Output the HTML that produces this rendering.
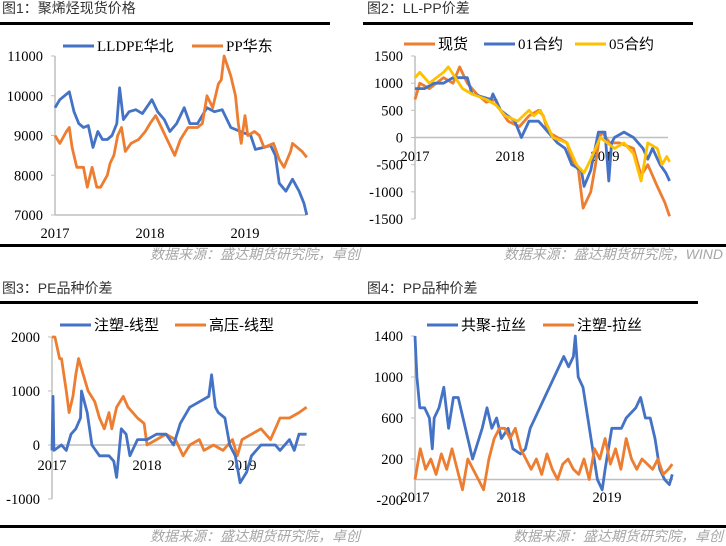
<!DOCTYPE html>
<html><head><meta charset="utf-8"><style>
body{margin:0;background:#fff;width:726px;height:546px;overflow:hidden}
svg{display:block}
.t{font-family:"Liberation Sans","Noto Sans CJK SC",sans-serif;font-size:14px;fill:#333}
.tk{font-family:"Liberation Serif","Noto Serif CJK SC",serif;font-size:14.5px;fill:#000}
.lg{font-family:"Liberation Serif","Noto Sans CJK SC",serif;font-size:15px;fill:#000}
.src{font-family:"Liberation Sans","Noto Sans CJK SC",sans-serif;font-size:14px;fill:#a6a6a6;font-style:italic}
</style></head><body>
<svg id="s" width="726" height="546" xmlns="http://www.w3.org/2000/svg">
<g>
<text class="t" x="2" y="13">图1：聚烯烃现货价格</text>
<rect x="0" y="22" width="330" height="3" fill="#000"/><rect x="0" y="244" width="363" height="3" fill="#000"/>
<text class="src" x="360" y="259" text-anchor="end">数据来源：盛达期货研究院，卓创</text>
</g>
<g>
<text class="t" x="367" y="13">图2：LL-PP价差</text>
<rect x="363" y="22" width="330" height="3" fill="#000"/><rect x="363" y="244" width="363" height="3" fill="#000"/>
<text class="src" x="723" y="259" text-anchor="end">数据来源：盛达期货研究院，WIND</text>
</g>
<g>
<text class="t" x="2" y="293">图3：PE品种价差</text>
<rect x="0" y="301" width="363" height="3" fill="#000"/><rect x="0" y="525" width="363" height="3" fill="#000"/>
<text class="src" x="360" y="541" text-anchor="end">数据来源：盛达期货研究院，卓创</text>
</g>
<g>
<text class="t" x="367" y="293">图4：PP品种价差</text>
<rect x="363" y="301" width="335" height="3" fill="#000"/><rect x="363" y="525" width="363" height="3" fill="#000"/>
<text class="src" x="723" y="541" text-anchor="end">数据来源：盛达期货研究院，卓创</text>
</g>
</svg>
<script>
const BLUE="#4472C4",ORANGE="#ED7D31",YELLOW="#FFC000";
const yearLabels=["2017","2018","2019"];
// Chart 1
const c1Ticks=[7000,8000,9000,10000,11000];
const c1LlT=[0,.05,.1,.15,.2,.25,.3,.35,.4,.45,.5,.55,.6,.65,.68,.72,.78,.85,.92,1.02,1.08,1.15,1.21,1.28,1.36,1.42,1.5,1.6,1.68,1.76,1.85,1.95,2.06,2.11,2.2,2.27,2.32,2.36,2.43,2.5,2.57,2.62,2.65];
const c1LlV=[9700,9900,10000,10100,9600,9300,9200,9250,8700,9100,8900,8900,9000,9300,10200,9400,9600,9650,9550,9900,9600,9400,9100,9300,9700,9300,9300,9700,9600,9650,9200,9100,9000,8650,8700,8750,8500,7800,7600,7900,7600,7300,7000];
const c1PpT=[0,.05,.12,.15,.18,.23,.3,.34,.39,.44,.48,.55,.58,.62,.66,.7,.74,.8,.88,.95,1.0,1.06,1.12,1.16,1.26,1.32,1.4,1.5,1.55,1.6,1.66,1.72,1.75,1.78,1.85,1.9,1.93,1.96,2.0,2.03,2.1,2.15,2.2,2.3,2.36,2.41,2.48,2.5,2.55,2.6,2.65];
const c1PpV=[9000,8800,9100,9200,8700,8200,8200,7700,8200,7700,7700,8000,8300,8500,9000,9200,8600,8800,8900,9100,9300,9500,9200,9000,8500,8900,9200,9200,9300,10000,9700,10300,10400,11000,10500,10000,9300,8800,9500,9000,9100,9000,8700,8800,8400,8200,8600,8800,8700,8600,8450];
// Chart 2
const c2Ticks=[-1500,-1000,-500,0,500,1000,1500];
const c2SpotT=[0,.05,.15,.3,.4,.47,.55,.65,.75,.85,.9,.98,1.1,1.2,1.3,1.35,1.4,1.5,1.6,1.65,1.72,1.77,1.85,1.9,1.94,1.97,2.05,2.15,2.3,2.38,2.45,2.55,2.63,2.68];
const c2SpotV=[700,1000,900,1100,1000,1300,1000,800,650,700,500,300,200,400,500,400,100,0,-100,-400,-600,-1300,-1000,-500,0,100,-100,-100,-200,-700,-500,-900,-1200,-1450];
const c2C01T=[0,.1,.2,.3,.4,.55,.6,.8,.82,.9,1.05,1.12,1.2,1.3,1.35,1.5,1.58,1.65,1.75,1.78,1.85,1.93,2.0,2.04,2.07,2.1,2.2,2.3,2.4,2.45,2.5,2.58,2.64,2.68];
const c2C01V=[900,900,1000,1000,1100,1100,800,700,800,500,300,0,300,300,200,-100,-200,-500,-600,-900,-600,100,100,-800,-100,0,100,0,-200,-400,-200,-500,-650,-800];
const c2C05T=[0,.05,.15,.3,.35,.5,.6,.75,.85,.95,1.08,1.2,1.25,1.32,1.45,1.6,1.7,1.78,1.85,1.95,2.1,2.2,2.3,2.38,2.45,2.55,2.6,2.65,2.68];
const c2C05V=[1100,1200,1000,1200,1300,900,800,700,600,400,300,500,400,500,0,-100,-500,-650,-400,0,-200,-100,-300,-800,-100,-200,-500,-350,-450];
// Chart 3
const c3Ticks=[-1000,0,1000,2000];
const c3InjT=[0,.01,.02,.1,.15,.2,.25,.3,.31,.37,.42,.5,.6,.65,.68,.73,.78,.82,.9,1.0,1.1,1.2,1.28,1.35,1.45,1.55,1.65,1.68,1.72,1.75,1.82,1.87,1.93,1.98,2.05,2.1,2.2,2.35,2.4,2.5,2.55,2.6,2.68];
const c3InjV=[-100,900,-100,0,-100,200,300,500,1000,600,0,-200,-200,-300,-600,300,200,-200,100,100,200,200,0,400,700,800,900,1300,700,600,500,0,-200,-700,-500,-200,0,0,-100,100,-100,200,200];
const c3HpT=[0,.03,.08,.1,.15,.18,.22,.25,.28,.33,.38,.45,.5,.55,.6,.63,.68,.75,.8,.9,.97,1.0,1.1,1.2,1.3,1.38,1.45,1.55,1.6,1.7,1.8,1.9,1.95,2.0,2.1,2.2,2.3,2.35,2.4,2.5,2.6,2.68];
const c3HpV=[2000,2000,1600,1600,1000,600,900,1300,1600,1300,1000,800,500,300,600,300,700,900,700,500,400,0,100,200,100,-200,0,100,-100,0,-100,100,-200,100,200,300,100,300,500,500,600,700];
// Chart 4
const c4Ticks=[-200,200,600,1000,1400];
const c4CoT=[0,.02,.05,.1,.15,.18,.2,.25,.3,.35,.4,.45,.5,.55,.6,.7,.75,.8,.85,.9,.97,1.02,1.1,1.15,1.2,1.3,1.35,1.45,1.55,1.6,1.65,1.67,1.7,1.75,1.8,1.85,1.9,1.95,1.98,2.05,2.15,2.2,2.3,2.35,2.4,2.45,2.5,2.55,2.6,2.65,2.68];
const c4CoV=[1400,1000,700,700,600,300,600,700,900,500,800,800,600,400,200,500,700,500,600,400,500,300,250,300,500,700,800,1000,1200,1100,1200,1400,1000,900,600,300,0,-100,100,500,500,600,700,800,600,600,400,100,0,-50,50];
const c4InjT=[0,.055,.11,.165,.22,.275,.33,.385,.44,.495,.55,.605,.66,.715,.77,.825,.88,.935,.99,1.045,1.1,1.155,1.21,1.265,1.32,1.375,1.43,1.485,1.54,1.595,1.65,1.705,1.76,1.815,1.87,1.925,1.98,2.035,2.09,2.145,2.2,2.255,2.31,2.365,2.42,2.475,2.53,2.585,2.64,2.68];
const c4InjV=[0,300,100,200,50,250,100,300,100,-100,200,100,0,-100,200,400,500,500,400,500,300,200,100,200,50,250,100,0,150,200,100,50,200,0,300,200,400,150,300,100,400,200,100,200,150,100,200,50,100,150];

const svg=document.getElementById('s');
const NS="http://www.w3.org/2000/svg";
function mk(tag,attrs,parent){const e=document.createElementNS(NS,tag);for(const k in attrs)e.setAttribute(k,attrs[k]);(parent||svg).appendChild(e);return e;}
function chart(id,cfg,series,legend){
  const g=mk('g',{});
  
  
  const xs=t=>cfg.x0+t*cfg.yearW;
  const ys=v=>cfg.yTop+(cfg.vMax-v)/(cfg.vMax-cfg.vMin)*(cfg.yBot-cfg.yTop);
  const ax=mk('line',{x1:cfg.x0,x2:cfg.x0,y1:cfg.yTop,y2:cfg.yBot,stroke:'#bfbfbf','stroke-width':1.5},g);
  
  
  cfg.ticks.forEach(v=>{
    mk('line',{x1:cfg.x0-4,x2:cfg.x0,y1:ys(v),y2:ys(v),stroke:'#bfbfbf'},g);
    const t=mk('text',{class:'tk',x:cfg.x0-12,y:ys(v)+5,'text-anchor':'end'},g);
    
    
    t.textContent=v;
  });
  const xa=mk('line',{x1:cfg.x0,x2:cfg.xEnd,y1:ys(cfg.xAxisAt),y2:ys(cfg.xAxisAt),stroke:'#bfbfbf','stroke-width':1.5},g);
  
  
  yearLabels.forEach((l,i)=>{
    const t=mk('text',{class:'tk',x:xs(i),y:cfg.yearY,'text-anchor':'middle'},g);
    
    
    t.textContent=l;
  });
  series.forEach(s=>{
    const d=s.t.map((t,i)=>(i?'L':'M')+xs(t).toFixed(1)+','+ys(s.v[i]).toFixed(1)).join('');
    const p=mk('path',{d:d,fill:'none',stroke:s.c,'stroke-width':2.8,'stroke-linejoin':'round'},g);
    
    
  });
  legend.forEach(l=>{
    const lg=mk('g',{},g);
    
    
    mk('line',{x1:l.x,x2:l.x+31,y1:l.y,y2:l.y,stroke:l.c,'stroke-width':3},lg);
    const t=mk('text',{class:'lg',x:l.x+34,y:l.y+5},lg);
    t.textContent=l.txt;
  });
}
chart('chart-1',{x0:55,yearW:95,xEnd:306,yTop:56,yBot:215,vMin:7000,vMax:11000,ticks:c1Ticks,xAxisAt:7000,yearY:238},
  [{t:c1LlT,v:c1LlV,c:BLUE,n:'series-lldpe'},{t:c1PpT,v:c1PpV,c:ORANGE,n:'series-pp'}],
  [{x:63,y:46,c:BLUE,txt:'LLDPE华北'},{x:192,y:46,c:ORANGE,txt:'PP华东'}]);
chart('chart-2',{x0:415,yearW:95,xEnd:668,yTop:56,yBot:219,vMin:-1500,vMax:1500,ticks:c2Ticks,xAxisAt:0,yearY:161},
  [{t:c2SpotT,v:c2SpotV,c:ORANGE,n:'series-spot'},{t:c2C01T,v:c2C01V,c:BLUE,n:'series-01'},{t:c2C05T,v:c2C05V,c:YELLOW,n:'series-05'}],
  [{x:404,y:44,c:ORANGE,txt:'现货'},{x:484,y:44,c:BLUE,txt:'01合约'},{x:575,y:44,c:YELLOW,txt:'05合约'}]);
chart('chart-3',{x0:52,yearW:95,xEnd:305,yTop:337,yBot:499,vMin:-1000,vMax:2000,ticks:c3Ticks,xAxisAt:0,yearY:470},
  [{t:c3HpT,v:c3HpV,c:ORANGE,n:'series-hp-linear'},{t:c3InjT,v:c3InjV,c:BLUE,n:'series-injection-linear'}],
  [{x:60,y:325,c:BLUE,txt:'注塑-线型'},{x:175,y:325,c:ORANGE,txt:'高压-线型'}]);
chart('chart-4',{x0:415,yearW:96,xEnd:673,yTop:336,yBot:500,vMin:-200,vMax:1400,ticks:c4Ticks,xAxisAt:0,yearY:502},
  [{t:c4CoT,v:c4CoV,c:BLUE,n:'series-copolymer-raffia'},{t:c4InjT,v:c4InjV,c:ORANGE,n:'series-injection-raffia'}],
  [{x:427,y:325,c:BLUE,txt:'共聚-拉丝'},{x:543,y:325,c:ORANGE,txt:'注塑-拉丝'}]);
</script>
</body></html>
